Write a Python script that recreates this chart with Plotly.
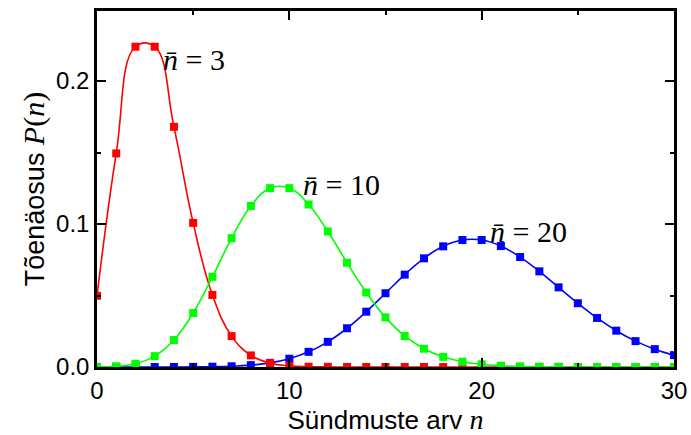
import plotly.graph_objects as go

n_values = list(range(31))

p_mean3 = [0.0498, 0.1494, 0.2240, 0.2240, 0.1680, 0.1008, 0.0504, 0.0216, 0.0081, 0.0027,
           0.0008, 0.0002, 0.0001, 0.0, 0.0, 0.0, 0.0, 0.0, 0.0, 0.0,
           0.0, 0.0, 0.0, 0.0, 0.0, 0.0, 0.0, 0.0, 0.0, 0.0, 0.0]
p_mean10 = [0.0000, 0.0005, 0.0023, 0.0076, 0.0189, 0.0378, 0.0631, 0.0901, 0.1126, 0.1251,
            0.1251, 0.1137, 0.0948, 0.0729, 0.0521, 0.0347, 0.0217, 0.0128, 0.0071, 0.0037,
            0.0019, 0.0009, 0.0004, 0.0002, 0.0001, 0.0, 0.0, 0.0, 0.0, 0.0, 0.0]
p_mean20 = [0.0, 0.0, 0.0, 0.0, 0.0, 0.0001, 0.0002, 0.0005, 0.0013, 0.0029,
            0.0058, 0.0106, 0.0176, 0.0271, 0.0387, 0.0516, 0.0646, 0.0760, 0.0844, 0.0888,
            0.0888, 0.0846, 0.0769, 0.0669, 0.0557, 0.0446, 0.0343, 0.0254, 0.0181, 0.0125, 0.0083]

series = [
    ("n̄ = 20", p_mean20, "#0000ff"),
    ("n̄ = 3", p_mean3, "#ff0000"),
    ("n̄ = 10", p_mean10, "#00ff00"),
]

labels = [("3", 3.35, 0.215), ("10", 10.6, 0.128), ("20", 20.35, 0.0951)]

fig = go.Figure()
for name, vals, color in series:
    fig.add_trace(go.Scatter(
        x=n_values, y=vals, mode="lines+markers", name=name,
        line=dict(color=color, width=1.6, shape="spline", smoothing=1.2),
        marker=dict(symbol="square", size=8, color=color),
        showlegend=False,
    ))

serif = "Liberation Serif, Times New Roman, serif"
sans = "Liberation Sans, Arial, sans-serif"
for num, x, y in labels:
    fig.add_annotation(
        x=x, y=y, xref="x", yref="y", xanchor="left", yanchor="middle",
        text="<i>n̄</i> = " + num, showarrow=False,
        font=dict(family=serif, size=30, color="black"),
    )

axis_common = dict(
    showline=True, linecolor="black", linewidth=2.5, mirror="allticks",
    ticks="inside", ticklen=9, tickwidth=2, tickcolor="black",
    showgrid=False, zeroline=False, automargin=False, ticklabeloverflow="allow",
    tickfont=dict(family=sans, size=24, color="black"),
)

fig.update_xaxes(
    range=[0, 30], tickvals=[0, 10, 20, 30],
    minor=dict(ticks="inside", ticklen=4, tickwidth=1.5, tickcolor="black", dtick=5, tick0=0),
    title=dict(text="Sündmuste arv <span style='font-family:Liberation Serif;font-size:28px'><i>n</i></span>",
               font=dict(family=sans, size=26, color="black"), standoff=10),
    **axis_common,
)
fig.update_yaxes(
    range=[0, 0.249], tickvals=[0, 0.1, 0.2], tickformat=".1f",
    minor=dict(ticks="inside", ticklen=4, tickwidth=1.5, tickcolor="black", dtick=0.05, tick0=0),
    title=dict(text="Tõenäosus <span style='font-family:Liberation Serif;font-size:30px'><i>P</i>(<i>n</i>)</span>",
               font=dict(family=sans, size=27, color="black"), standoff=4),
    **axis_common,
)

fig.update_layout(
    width=691, height=435,
    margin=dict(l=97, r=17, t=11, b=68),
    plot_bgcolor="white", paper_bgcolor="white",
)

fig.write_html("out.html", config={"displayModeBar": False},
               post_script="document.body.style.margin='0';")
